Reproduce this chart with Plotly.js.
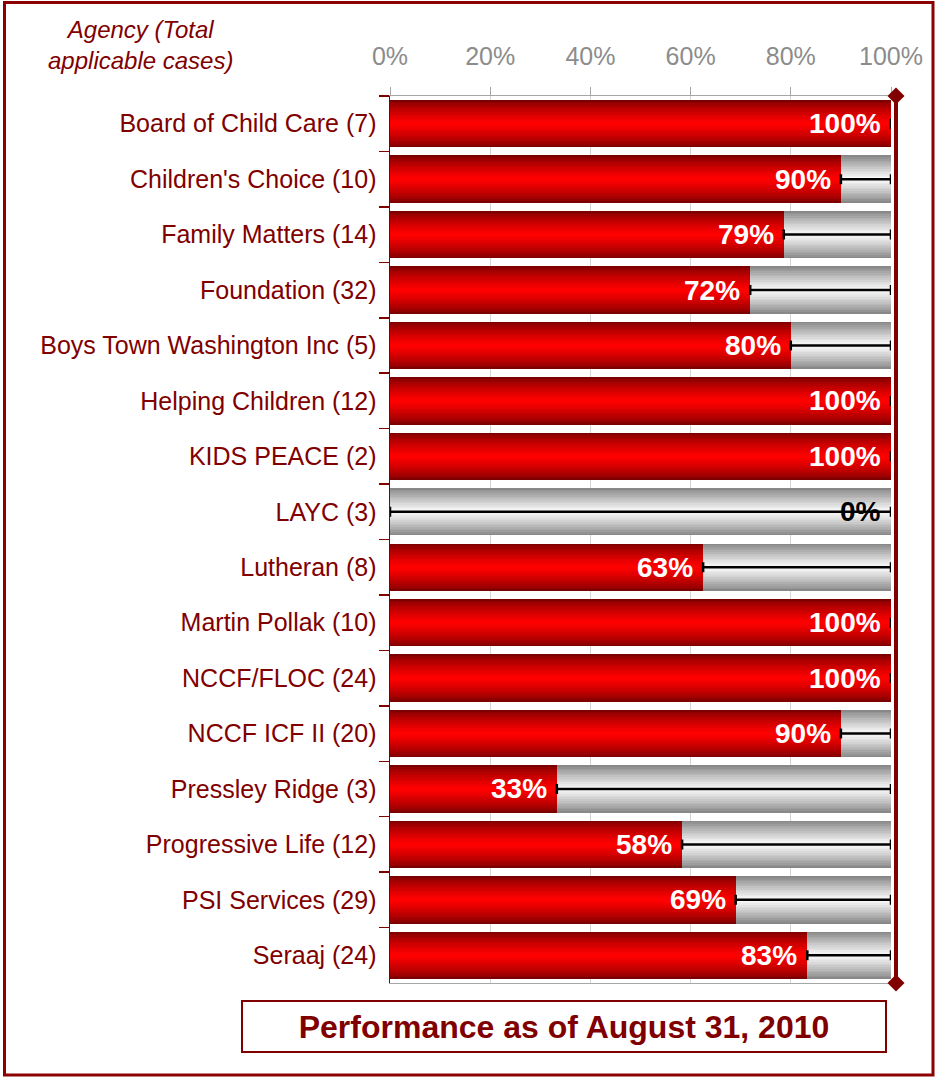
<!DOCTYPE html>
<html><head><meta charset="utf-8">
<script src="https://cdn.plot.ly/plotly-3.0.1.min.js"></script>
<style>html,body{margin:0;padding:0;background:#fff}#chart{width:937px;height:1078px}</style>
</head><body><div id="chart"></div>
<script>
const agencies = [
  "Board of Child Care (7)", "Children's Choice (10)", "Family Matters (14)", "Foundation (32)",
  "Boys Town Washington Inc (5)", "Helping Children (12)", "KIDS PEACE (2)", "LAYC (3)",
  "Lutheran (8)", "Martin Pollak (10)", "NCCF/FLOC (24)", "NCCF ICF II (20)",
  "Pressley Ridge (3)", "Progressive Life (12)", "PSI Services (29)", "Seraaj (24)"
];
const performance = [100, 90, 78.6, 71.9, 80, 100, 100, 0, 62.5, 100, 100, 90, 33.3, 58.3, 69, 83.3];
const fullScale = agencies.map(() => 100);
const target = 100;
const xTickValues = [0, 20, 40, 60, 80, 100];
const xTickLabels = ["0%", "20%", "40%", "60%", "80%", "100%"];
const chartTitle = "Performance as of August 31, 2010";
const axisCaption = "Agency (Total<br>applicable cases)";

const DARK = '#800000';
const FONT = 'Liberation Sans, Arial, Helvetica, sans-serif';
function lerp(c1, c2, t) { return 'rgb(' + c1.map((v, i) => Math.round(v + (c2[i] - v) * t)).join(',') + ')'; }
const N = 14, W = 0.855;
const traces = [];
function gradientLayers(xs, edge, center, gamma) {
  for (let i = 0; i < N; i++) {
    const w = W * (1 - i / N);
    const t = Math.pow(i / (N - 1), gamma);
    traces.push({type: 'bar', orientation: 'h', x: xs, y: agencies, width: w,
      marker: {color: lerp(edge, center, t), line: {width: 0}}, hoverinfo: 'skip', showlegend: false});
  }
}
gradientLayers(fullScale, [136, 136, 136], [250, 250, 250], 0.9);
gradientLayers(performance, [125, 0, 0], [255, 0, 0], 0.75);

traces.push({type: 'scatter', mode: 'markers', x: performance, y: agencies,
  marker: {size: 1, color: 'rgba(0,0,0,0)'},
  error_x: {type: 'data', symmetric: false, array: performance.map(v => target - v),
    arrayminus: performance.map(() => 0), color: '#000', thickness: 2.5, width: 5},
  hoverinfo: 'skip', showlegend: false});

const L = 390, R = 891, T = 96, B = 983, PW = R - L, PH = B - T;
const px = x => (x - L) / PW, py = y => (B - y) / PH;

const annotations = performance.map((v, i) => ({
  x: v === 0 ? target : v, y: agencies[i], xref: 'x', yref: 'y', xanchor: 'right', yanchor: 'middle',
  xshift: -8, showarrow: false, text: '<b>' + Math.round(v) + '%</b>',
  font: {family: FONT, size: 28, color: v === 0 ? '#000' : '#fff'}
}));
annotations.push({xref: 'paper', yref: 'paper', x: px(140), y: py(45), xanchor: 'center', yanchor: 'middle',
  showarrow: false, text: '<i>' + axisCaption + '</i>', align: 'center',
  font: {family: FONT, size: 24, color: DARK}});
annotations.push({xref: 'paper', yref: 'paper', x: px(564), y: py(1026.5), xanchor: 'center', yanchor: 'middle',
  showarrow: false, text: '<b>' + chartTitle + '</b>', width: 640, height: 47,
  bordercolor: DARK, borderwidth: 2, borderpad: 1, bgcolor: '#fff',
  font: {family: FONT, size: 32, color: DARK}});

const targetFrac = target / 100;
const diamond = 'M 5,-8.5 L 13.5,0 L 5,8.5 L -3.5,0 Z';
const shapes = [
  {type: 'rect', xref: 'paper', yref: 'paper', x0: px(4.5), x1: px(933), y0: py(1075), y1: py(2.5),
    line: {color: '#8B0000', width: 3}, layer: 'below'},
  {type: 'line', xref: 'x domain', yref: 'paper', xsizemode: 'pixel', xanchor: targetFrac, x0: 5, x1: 5,
    y0: 0, y1: 1, line: {color: DARK, width: 4}, layer: 'above'},
  {type: 'path', xref: 'x domain', yref: 'paper', xsizemode: 'pixel', ysizemode: 'pixel',
    xanchor: targetFrac, yanchor: 1, path: diamond, fillcolor: DARK, line: {width: 0}, layer: 'above'},
  {type: 'path', xref: 'x domain', yref: 'paper', xsizemode: 'pixel', ysizemode: 'pixel',
    xanchor: targetFrac, yanchor: 0, path: diamond, fillcolor: DARK, line: {width: 0}, layer: 'above'}
];

const layout = {
  width: 937, height: 1078,
  margin: {l: L, r: 937 - R, t: T, b: 1078 - B, pad: 0},
  paper_bgcolor: '#fff', plot_bgcolor: '#fff',
  barmode: 'overlay', bargap: 0,
  xaxis: {side: 'top', range: [0, 100], tickvals: xTickValues, ticktext: xTickLabels,
    tickfont: {family: FONT, size: 25, color: '#8c8c8c'}, ticks: 'outside', ticklen: 8, tickcolor: '#a6a6a6',
    ticklabelstandoff: 12, showline: true, linecolor: '#a6a6a6', linewidth: 1, mirror: true,
    showgrid: true, gridcolor: '#d4d4d4', gridwidth: 1, zeroline: false, fixedrange: true},
  yaxis: {type: 'category', range: [agencies.length - 0.5, -0.5], tickson: 'boundaries', ticks: 'outside', ticklen: 10,
    tickcolor: DARK, tickwidth: 1.5, showline: true, linecolor: DARK, linewidth: 1.5, showgrid: false,
    ticklabelstandoff: 7,
    tickfont: {family: FONT, size: 25, color: DARK}, fixedrange: true},
  annotations: annotations,
  shapes: shapes
};
Plotly.newPlot('chart', traces, layout, {displayModeBar: false, staticPlot: true});
</script></body></html>
